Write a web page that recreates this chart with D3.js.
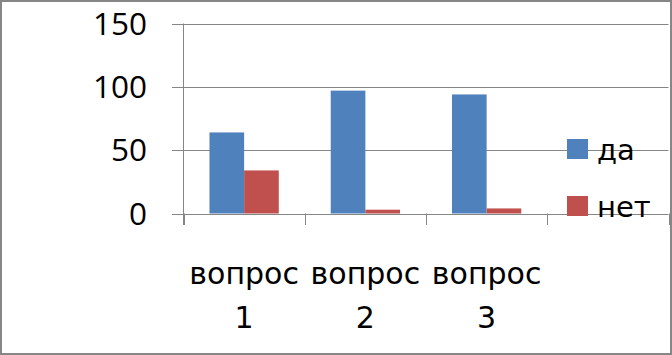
<!DOCTYPE html>
<html>
<head>
<meta charset="utf-8">
<script src="https://cdn.jsdelivr.net/npm/d3@7"></script>
<style>
  body { margin: 0; background: #fff; }
  text { font-family: "Open Sans", sans-serif; fill: #000; }
  .wide { font-family: "DejaVu Sans", sans-serif; }
</style>
</head>
<body>
<div id="content"></div>
<script>
const W = 672;
const H = 355;

// data
const categories = ["вопрос 1", "вопрос 2", "вопрос 3"];
const seriesNames = ["да", "нет"];
const yesValues = [64, 97, 94];
const noValues = [34, 3, 4];
const yTicks = [0, 50, 100, 150];

const colors = ["#4f81bd", "#c0504d"];
const gridColor = "#868686";

const svg = d3.select("#content").append("svg")
  .attr("width", W)
  .attr("height", H);

svg.append("rect")
  .attr("width", W).attr("height", H)
  .attr("fill", "white");

// outer chart border
svg.append("rect")
  .attr("x", 1).attr("y", 1)
  .attr("width", W - 2).attr("height", H - 2)
  .attr("fill", "none")
  .attr("stroke", gridColor)
  .attr("stroke-width", 2);

const plotLeft = 183.5, plotRight = 668.5;
const y = d3.scaleLinear().domain([0, 150]).range([213.5, 23.5]);

// the plot keeps one empty slot on the right, where the legend sits
const slots = categories.concat([""]).map((d, i) => i);
const x = d3.scaleBand().domain(slots).range([plotLeft, plotRight]).padding(0);
const groupW = x.bandwidth() * 2 / 3.5;
const x1 = d3.scaleBand().domain(seriesNames).range([0, groupW]);

// gridlines
svg.append("g").selectAll("line").data(yTicks).join("line")
  .attr("x1", 172).attr("x2", plotRight)
  .attr("y1", d => Math.round(y(d)) + 0.5).attr("y2", d => Math.round(y(d)) + 0.5)
  .attr("stroke", gridColor);

// y axis line
svg.append("line")
  .attr("x1", plotLeft).attr("x2", plotLeft)
  .attr("y1", y(150)).attr("y2", 225)
  .attr("stroke", gridColor);

// category tick marks
svg.append("g").selectAll("line").data(slots.concat([slots.length])).join("line")
  .attr("x1", d => Math.round(plotLeft + d * x.step()) + 0.5)
  .attr("x2", d => Math.round(plotLeft + d * x.step()) + 0.5)
  .attr("y1", y(0)).attr("y2", 225)
  .attr("stroke", gridColor);

// y labels
svg.append("g").selectAll("text").data(yTicks).join("text")
  .attr("x", 147)
  .attr("y", d => y(d) + 11)
  .attr("text-anchor", "end")
  .attr("font-size", 31.5)
  .text(d => d);

// bars
const rows = categories.map((c, i) => ({ i, vals: [yesValues[i], noValues[i]] }));
const groups = svg.append("g").selectAll("g").data(rows).join("g")
  .attr("transform", d => `translate(${x(d.i) + (x.bandwidth() - groupW) / 2},0)`);
groups.selectAll("rect").data(d => d.vals.map((v, k) => ({ v, k }))).join("rect")
  .attr("x", d => x1(seriesNames[d.k]))
  .attr("width", x1.bandwidth())
  .attr("y", d => y(d.v))
  .attr("height", d => y(0) - y(d.v))
  .attr("fill", d => colors[d.k]);

// category labels, two lines each
const labels = svg.append("g").selectAll("text").data(categories).join("text")
  .attr("class", "wide")
  .attr("text-anchor", "middle")
  .attr("font-size", 30);
labels.each(function(d, i) {
  const cx = x(i) + x.bandwidth() / 2;
  const parts = d.split(" ");
  d3.select(this).selectAll("tspan").data(parts).join("tspan")
    .attr("x", cx)
    .attr("y", (p, j) => 284 + j * 44.3)
    .text(p => p);
});

// legend
const legend = svg.append("g").selectAll("g").data(seriesNames).join("g")
  .attr("transform", (d, i) => `translate(567,${139 + i * 57})`);
legend.append("rect")
  .attr("width", 21).attr("height", 20)
  .attr("fill", (d, i) => colors[i]);
legend.append("text")
  .attr("class", "wide")
  .attr("x", 30).attr("y", 21)
  .attr("font-size", 29)
  .text(d => d);
</script>
</body>
</html>
